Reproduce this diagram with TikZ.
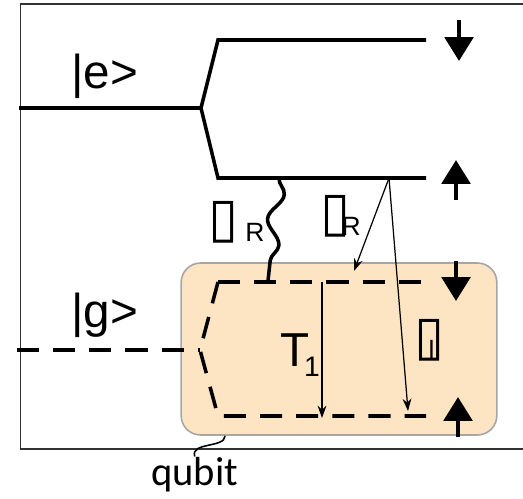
\documentclass[tikz,border=0pt]{standalone}
\usepackage{fontspec}
\setmainfont{Liberation Sans}
\newfontfamily\boxfont{DejaVu Sans}
\newfontfamily\tagfont{Carlito}
\usetikzlibrary{arrows.meta,decorations.pathmorphing}
\definecolor{qubitfill}{HTML}{FDE4C2}
\definecolor{qubitedge}{HTML}{A6A6A6}
\newcommand\ratesub[2]{\kern#1\raisebox{-2.5pt}{\normalfont\fontsize{15}{15}\selectfont #2}}

\begin{document}
\begin{tikzpicture}[
  x=0.567pt, y=-0.567pt,
  frame/.style={line width=0.9pt, draw=black!80},
  level/.style={line width=2pt},
  dlevel/.style={line width=2pt, dash pattern=on 12.5pt off 8pt},
  spin/.style={-{Triangle[width=16pt,length=13.5pt]}, line width=2.6pt},
  decay/.style={-{Stealth[length=7pt,width=5pt]}, line width=0.7pt},
  wiggle/.style={line width=2pt, decorate, decoration={snake, segment length=29pt, amplitude=4pt}},
  qbox/.style={draw=qubitedge, line width=0.9pt, fill=qubitfill, rounded corners=11pt, inner sep=0pt, minimum width=179pt, minimum height=97.5pt},
  state/.style={font=\fontsize{27}{30}\selectfont, anchor=base west, inner sep=0pt},
  rate/.style={font=\boxfont\fontsize{31}{34}\selectfont, anchor=south west, inner sep=0pt}
]
\useasboundingbox (0,0) rectangle (523,498);

% outer frame
\draw[frame] (523,4) -- (20.5,4) -- (20.5,449) -- (523,449);

% qubit subspace
\node[qbox] (qubit) at (339,349) {};

% excited manifold
\coordinate (eA) at (19,108);
\coordinate (eK) at (201,108);
\coordinate (eT0) at (218,40);
\coordinate (eT1) at (426,40);
\coordinate (eB0) at (218,178);
\coordinate (eB1) at (426,178);
\draw[level] (eA) -- (eK) -- (eT0) -- (eT1);
\draw[level] (eK) -- (eB0) -- (eB1);

% ground manifold
\coordinate (gA) at (17,350);
\coordinate (gK) at (200,350);
\coordinate (gT0) at (218,282);
\coordinate (gT1) at (426,282);
\coordinate (gB0) at (218,416);
\coordinate (gB1) at (426,416);
\draw[dlevel] (gA) -- (gK);
\draw[dlevel] (gT0) -- (gT1);
\draw[dlevel] (gT0) -- (gK) -- (gB0) -- (gB1);

% spins
\draw[spin] (459,20) -- (459,61);
\draw[spin] (456,200) -- (456,160);
\draw[spin] (456,261) -- (456,301);
\draw[spin] (458,437) -- (458,397);

% couplings and decays
\coordinate (wtop) at (279,178);
\coordinate (wbot) at (268,281);
\draw[wiggle] (wtop) -- (wbot);
\coordinate (src) at (389,178);
\coordinate (hitA) at (354,271);
\coordinate (hitB) at (408,411);
\coordinate (tTop) at (322,282);
\coordinate (tBot) at (322,418);
\draw[decay] (src) -- (hitA);
\draw[decay] (src) -- (hitB);
\draw[decay] (tTop) -- (tBot);

% labels
\node[state] (elab) at (71,89) {|e>};
\node[state] (glab) at (71,327) {|g>};
\node[state] (tlab) at (280,366) {T\kern-3pt\raisebox{-6pt}{\fontsize{16}{16}\selectfont 1}};
\node[rate] (rateA) at (208,244) {▯\ratesub{4pt}{R}};
\node[rate] (rateB) at (320,238) {▯\ratesub{-5pt}{R}};
\node[rate] (rateC) at (414,362) {▯\ratesub{-9pt}{l}};
\node[font=\tagfont\fontsize{23}{24}\selectfont, anchor=base west, inner sep=0pt] (qlabel) at (151,485) {qubit};

\coordinate (qb) at (225,436);
\draw[line width=0.9pt] (qb) .. controls (225,448) and (190,442) .. (qlabel.north);
\end{tikzpicture}
\end{document}
